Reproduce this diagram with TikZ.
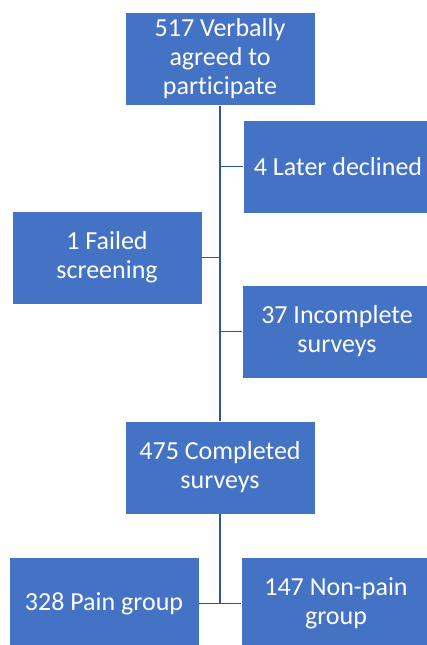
\documentclass[tikz,border=0pt]{standalone}
\usepackage{fontspec}
\setmainfont[Ligatures=NoCommon]{Carlito}
\usepackage{tikz}
\usetikzlibrary{arrows.meta}

\definecolor{boxblue}{HTML}{4472C4}
\definecolor{lineblue}{HTML}{2F5597}

\begin{document}
\begin{tikzpicture}[x=1pt,y=-1pt]
		\useasboundingbox (0,0) rectangle (426,645);
		\begin{scope}[every node/.style={rectangle,fill=boxblue,draw=white,line width=0.8pt,
					  minimum width=190pt,minimum height=93pt,inner sep=2pt,
					  text=white,align=center,font=\fontsize{26}{29}\selectfont}]
			\node (agreed) at (220,59) {517 Verbally\\agreed to\\participate};
			\node (declined) at (338,166.5) {4 Later declined};
			\node (failed) at (107,257.5) {1 Failed\\screening};
			\node (incomplete) at (337,331.5) {37 Incomplete\\surveys};
			\node (completed) at (220,467.5) {475 Completed\\surveys};

			\node (pain) at (104,603.5) {328 Pain group};
			\node (nonpain) at (336,603.5) {147 Non-pain\\group};
		\end{scope}

		\begin{scope}[every edge/.style={draw=lineblue,line width=1.8pt}]
			\coordinate (split) at (completed.south |- pain.east);
			\path (agreed.south) edge (completed.north);
			\path (declined.west -| agreed.south) edge (declined.west);
			\path (failed.east) edge (failed.east -| agreed.south);
			\path (incomplete.west -| agreed.south) edge (incomplete.west);

			\path (completed.south) edge (split);
			\path (pain.east) edge (nonpain.west);
		\end{scope}
		\end{tikzpicture}
\end{document}
